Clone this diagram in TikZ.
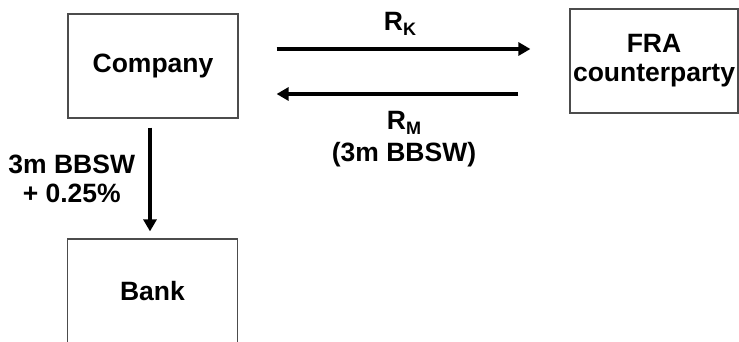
\documentclass[tikz,border=0pt]{standalone}
\usepackage{fontspec}
\setmainfont{Liberation Sans}
\usetikzlibrary{arrows.meta,positioning}

\newcommand{\ratesub}[1]{\raisebox{-5pt}{\fontsize{18}{18}\selectfont #1}}

\tikzset{
  party/.style={draw=black!70, line width=1.2pt, minimum width=170pt, minimum height=104pt, align=center, inner sep=0pt},
  flow/.style={line width=3.8pt, -{Triangle[length=12pt,width=13pt]}},
  rate/.style={align=center, inner sep=0pt},
}

\begin{document}
\begin{tikzpicture}[x=1pt, y=-1pt, every node/.style={font=\fontsize{26.5}{29}\selectfont\bfseries}]
    \useasboundingbox (0,0) rectangle (739,342);

    \node[party] (company) at (153,66) {Company};
    \node[party, minimum width=168pt] (fra) at (654,61) {FRA\\counterparty};
    \node[party] (bank) at (152.5,291) {Bank};

    \draw[flow, shorten <=38pt, shorten >=39pt] ([yshift=17pt]company.east) -- ([yshift=17pt]company.east -| fra.west) node[rate, midway, above=12pt, xshift=-4pt] (rk) {R\ratesub{K}};
    \draw[flow, shorten <=51pt, shorten >=38pt] ([yshift=-28pt]company.east -| fra.west) -- ([yshift=-28pt]company.east) node[rate, midway, below=15pt] (rm) {R\ratesub{M}\\[3pt](3m BBSW)};

    \draw[flow, shorten <=9pt, shorten >=7pt] ([xshift=-3pt]company.south) -- ([xshift=-3pt]company.south |- bank.north) node[rate, midway, left=13pt] (spread) {3m BBSW\\+ 0.25\%};
\end{tikzpicture}
\end{document}
